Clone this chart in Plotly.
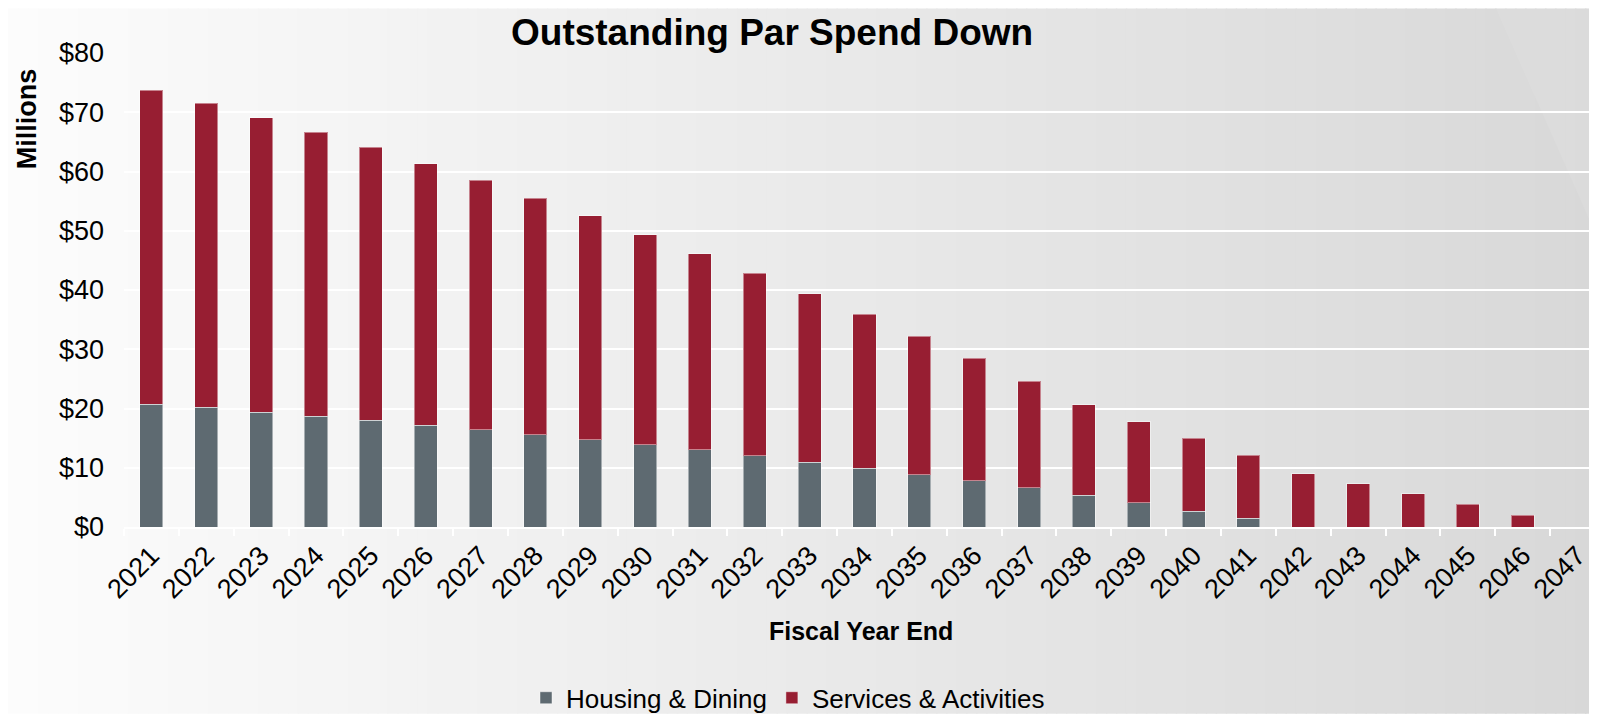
import plotly.graph_objects as go

years = [str(y) for y in range(2021, 2048)]
housing_dining = [20.7, 20.2, 19.4, 18.7, 18.0, 17.2, 16.4, 15.6, 14.7, 13.9,
                  13.0, 12.0, 10.95, 9.94, 8.8, 7.8, 6.6, 5.4, 4.1, 2.7,
                  1.45, 0, 0, 0, 0, 0, 0]
services_activities = [53.05, 51.3, 49.7, 47.9, 46.1, 44.1, 42.1, 39.9, 37.8, 35.4,
                       33.1, 30.8, 28.45, 25.96, 23.4, 20.7, 18.0, 15.2, 13.7, 12.3,
                       10.65, 9.0, 7.3, 5.6, 3.8, 1.96, 0]
y_ticks = [0, 10, 20, 30, 40, 50, 60, 70, 80]
y_tick_labels = ["$" + str(v) for v in y_ticks]

W, H = 1597, 714
ML, MR, MT, MB = 116, 0, 45, 189
PW, PH = W - ML - MR, H - MT - MB

def px_x(p):
    return (p - ML) / PW

def px_y(p):
    return (H - MB - p) / PH

FONT = "Liberation Sans, Arial, sans-serif"

fig = go.Figure()
fig.add_trace(go.Bar(
    x=years, y=housing_dining, name="Housing & Dining",
    marker=dict(color="#5E6A71", line=dict(color="rgba(255,255,255,0.45)", width=1)),
))
fig.add_trace(go.Bar(
    x=years, y=services_activities, name="Services & Activities",
    marker=dict(color="#971E32", line=dict(color="rgba(255,255,255,0.45)", width=1)),
))

# background gradient
shapes = []
N = 160
x0p, x1p = px_x(0), px_x(W)
for i in range(N):
    t = i / (N - 1)
    c = round(252 - (252 - 216) * t)
    a = x0p + (x1p - x0p) * i / N
    b = x0p + (x1p - x0p) * (i + 1) / N + 0.001
    shapes.append(dict(type="rect", xref="paper", yref="paper",
                       x0=a, x1=b, y0=px_y(H), y1=px_y(0),
                       fillcolor=f"rgb({c},{c},{c})", line=dict(width=0), layer="below"))
# lighter diagonal in top-right corner
shapes.append(dict(type="path", xref="paper", yref="paper", layer="below",
                   path=f"M {px_x(1488)} {px_y(0)} L {px_x(1597)} {px_y(0)} L {px_x(1597)} {px_y(250)} Z",
                   fillcolor="rgba(255,255,255,0.08)", line=dict(width=0)))

annotations = [
    dict(text="<b>Outstanding Par Spend Down</b>", x=px_x(764), y=px_y(1),
         xref="paper", yref="paper", showarrow=False, xanchor="center", yanchor="top",
         font=dict(family=FONT, size=37, color="#000000")),
    dict(text="<b>Millions</b>", x=px_x(19), y=px_y(112), textangle=-90,
         xref="paper", yref="paper", showarrow=False, xanchor="center", yanchor="middle",
         font=dict(family=FONT, size=27, color="#000000")),
    dict(text="<b>Fiscal Year End</b>", x=px_x(853), y=px_y(630),
         xref="paper", yref="paper", showarrow=False, xanchor="center", yanchor="middle",
         font=dict(family=FONT, size=25, color="#000000")),
]

fig.update_layout(
    width=W, height=H,
    margin=dict(l=ML, r=MR, t=MT, b=MB, pad=0),
    paper_bgcolor="#FFFFFF", plot_bgcolor="rgba(0,0,0,0)",
    barmode="stack", bargap=0.58,
    font=dict(family=FONT, size=24, color="#000000"),
    shapes=shapes, annotations=annotations,
    showlegend=True,
    legend=dict(orientation="h", x=px_x(780), y=px_y(698), xanchor="center", yanchor="middle",
                font=dict(family=FONT, size=26, color="#000000"), itemwidth=30,
                bgcolor="rgba(0,0,0,0)", traceorder="normal"),
    xaxis=dict(type="category", showgrid=False, showline=True, linecolor="#FFFFFF", linewidth=2,
               ticks="outside", tickson="boundaries", tickcolor="#FFFFFF", ticklen=7, tickwidth=1.5,
               tickangle=-45, tickfont=dict(family=FONT, size=27, color="#000000"),
               zeroline=False, fixedrange=True),
    yaxis=dict(range=[0, 80], tickvals=y_ticks, ticktext=y_tick_labels,
               showgrid=True, gridcolor="#FFFFFF", gridwidth=2, zeroline=False,
               showline=False, ticks="", ticklabelstandoff=19,
               tickfont=dict(family=FONT, size=27, color="#000000"), fixedrange=True),
)

fig.write_html("out.html")
